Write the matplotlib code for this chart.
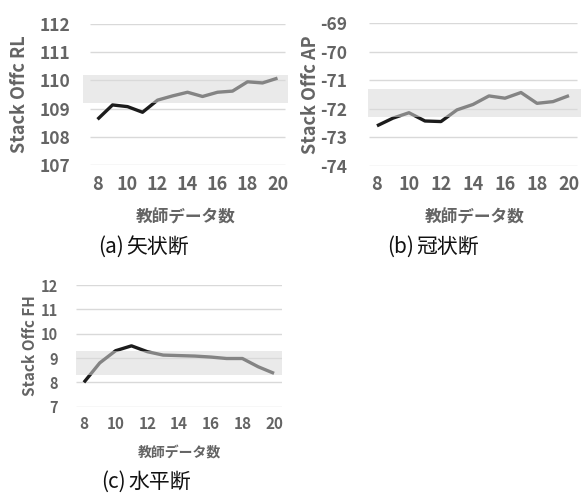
import matplotlib.pyplot as plt
import numpy as np

plt.rcParams['font.family'] = ['Noto Sans CJK JP', 'DejaVu Sans']
plt.rcParams['font.weight'] = 'bold'
plt.rcParams['axes.labelweight'] = 'bold'

n_teacher = np.arange(8, 21)

offc_rl = [108.62, 109.13, 109.07, 108.87, 109.30, 109.45, 109.58, 109.43,
           109.58, 109.62, 109.95, 109.91, 110.08]
offc_ap = [-72.60, -72.33, -72.14, -72.43, -72.45, -72.04, -71.85, -71.55,
           -71.63, -71.43, -71.81, -71.75, -71.54]
offc_fh = [8.00, 8.80, 9.30, 9.50, 9.26, 9.12, 9.10, 9.08, 9.04, 8.98,
           8.98, 8.64, 8.37]

band_rl = (109.2, 110.2)
band_ap = (-72.3, -71.3)
band_fh = (8.3, 9.3)

W, H = 582, 494
fig = plt.figure(figsize=(W / 100, H / 100), dpi=100)

TICK_C = '#646464'
LINE_C = '#1c1c1c'


def panel(box, xlim, ylim, yticks, values, band, ylabel, tag, name, cap_xy,
          fs_ytick, fs_xtick, fs_xlabel, fs_ylabel, ylabel_x, xlabel_y, ypad):
    x0, y0, x1, y1 = box
    ax = fig.add_axes([x0 / W, 1 - y1 / H, (x1 - x0) / W, (y1 - y0) / H])
    ax.set_xlim(*xlim)
    ax.set_ylim(*ylim)
    for s in ax.spines.values():
        s.set_visible(False)
    ax.hlines(yticks, 7.5, 20.5, color='#d9d9d9', lw=1.0, zorder=1)
    ax.plot(n_teacher, values, color=LINE_C, lw=2.4, zorder=2,
            solid_joinstyle='round', solid_capstyle='butt')
    ax.axhspan(band[0], band[1], color='#dadada', alpha=0.55, lw=0, zorder=3)
    ax.set_xticks(np.arange(8, 21, 2))
    ax.set_yticks(yticks)
    ax.set_yticklabels([f'{v:g}' for v in yticks])
    ax.tick_params(length=0, colors=TICK_C)
    ax.tick_params(axis='y', pad=ypad, labelsize=fs_ytick)
    ax.tick_params(axis='x', pad=7, labelsize=fs_xtick)
    ax.set_ylabel(ylabel, fontsize=fs_ylabel, color=TICK_C)
    ax.set_xlabel('教師データ数', fontsize=fs_xlabel, color=TICK_C)
    ax.yaxis.set_label_coords((ylabel_x - x0) / (x1 - x0), 0.5)
    ax.xaxis.set_label_coords(0.5, -(xlabel_y - y1) / (y1 - y0))
    ax.xaxis.label.set_va('center')
    ax.yaxis.label.set_va('center')
    # caption: "(a)" and the plane name, with a small gap between them
    cx, cy = cap_xy
    fig.text((cx - 23) / W, 1 - cy / H, tag, fontsize=15, fontweight='normal',
             ha='right', va='center', color='#111111')
    fig.text((cx - 21) / W, 1 - cy / H, name, fontsize=15, fontweight='normal',
             ha='left', va='center', color='#111111')
    return ax


panel((83, 24, 288, 165), (7.03, 20.7), (107, 112), np.arange(107, 113),
      offc_rl, band_rl, 'Stack Offc RL', '(a)', '矢状断', (147, 247),
      12.5, 13, 12, 13, 20, 218, 9)
panel((368, 23.3, 581, 165.7), (7.44, 20.75), (-74, -69), np.arange(-74, -68),
      offc_ap, band_ap, 'Stack Offc AP', '(b)', '冠状断', (437, 247),
      12.5, 13, 12, 13, 311, 218, 15)
panel((76, 285, 282, 406.7), (7.5, 20.5), (7, 12), np.arange(7, 13),
      offc_fh, band_fh, 'Stack Offc FH', '(c)', '水平断', (149, 482),
      10.5, 11, 10, 11, 30, 453, 13)

fig.savefig('out.png', dpi=100)
